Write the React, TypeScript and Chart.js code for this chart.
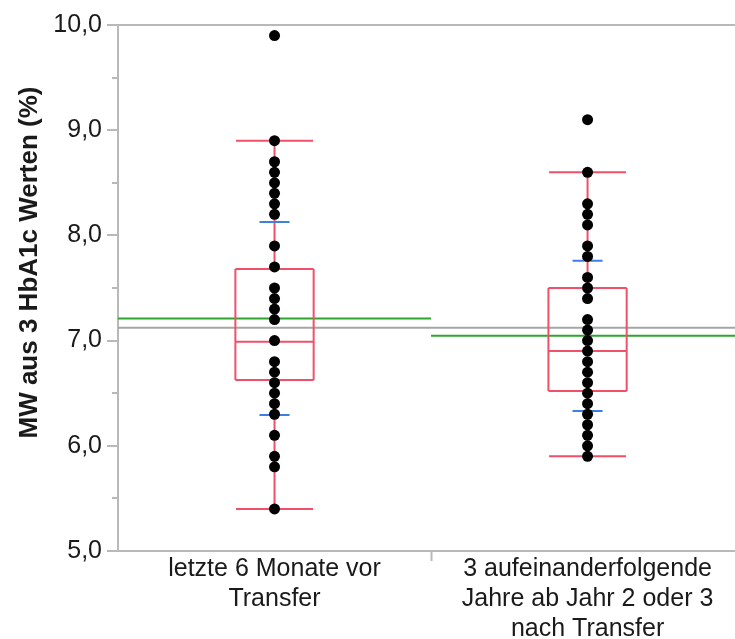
import React, { useEffect, useRef } from 'react';
import { Chart, registerables } from 'chart.js';

Chart.register(...registerables);

// Category labels (one line per array entry)
const categoryLabels: string[][] = [
  ['letzte 6 Monate vor', 'Transfer'],
  ['3 aufeinanderfolgende', 'Jahre ab Jahr 2 oder 3', 'nach Transfer'],
];
const groupCenters = [0.5, 1.5];

// Individual HbA1c means (%)
const valuesBefore = [
  9.9, 8.9, 8.7, 8.6, 8.5, 8.4, 8.3, 8.2, 7.9, 7.7, 7.5, 7.4, 7.3, 7.2, 7.0,
  6.8, 6.7, 6.6, 6.5, 6.4, 6.3, 6.1, 5.9, 5.8, 5.4,
];
const valuesAfter = [
  9.1, 8.6, 8.3, 8.2, 8.1, 7.9, 7.8, 7.6, 7.5, 7.4, 7.2, 7.1, 7.0, 6.9, 6.8,
  6.7, 6.6, 6.5, 6.4, 6.3, 6.2, 6.1, 6.0, 5.9,
];

// Summary statistics per group
const groupMeans = [7.21, 7.045];
const groupSds = [0.918, 0.715];
const quartile1 = [6.625, 6.52];
const medians = [6.99, 6.9];
const quartile3 = [7.68, 7.5];
const whiskerLow = [5.4, 5.9];
const whiskerHigh = [8.9, 8.6];
const grandMean = 7.123;

const yTitle = 'MW aus 3 HbA1c Werten (%)';

type Pt = { x: number; y: number | null };

const BOX_HALF = 0.125;
const CAP_HALF = 0.123;
const SD_HALF = 0.048;

function segments(list: [number, number, number, number][]): Pt[] {
  const out: Pt[] = [];
  list.forEach(([x1, y1, x2, y2]) => {
    out.push({ x: x1, y: y1 }, { x: x2, y: y2 }, { x: x2, y: null });
  });
  return out;
}

function boxSegments(): Pt[] {
  const segs: [number, number, number, number][] = [];
  groupCenters.forEach((c, i) => {
    const l = c - BOX_HALF;
    const r = c + BOX_HALF;
    // box
    segs.push([l, quartile1[i], r, quartile1[i]]);
    segs.push([r, quartile1[i], r, quartile3[i]]);
    segs.push([r, quartile3[i], l, quartile3[i]]);
    segs.push([l, quartile3[i], l, quartile1[i]]);
    // median
    segs.push([l, medians[i], r, medians[i]]);
    // whiskers
    segs.push([c, quartile3[i], c, whiskerHigh[i]]);
    segs.push([c, quartile1[i], c, whiskerLow[i]]);
    // caps
    segs.push([c - CAP_HALF, whiskerHigh[i], c + CAP_HALF, whiskerHigh[i]]);
    segs.push([c - CAP_HALF, whiskerLow[i], c + CAP_HALF, whiskerLow[i]]);
  });
  return segments(segs);
}

function sdSegments(): Pt[] {
  const segs: [number, number, number, number][] = [];
  groupCenters.forEach((c, i) => {
    const hi = groupMeans[i] + groupSds[i];
    const lo = groupMeans[i] - groupSds[i];
    segs.push([c - SD_HALF, hi, c + SD_HALF, hi]);
    segs.push([c - SD_HALF, lo, c + SD_HALF, lo]);
  });
  return segments(segs);
}

function meanSegments(): Pt[] {
  return segments(
    groupCenters.map((c, i) => [c - 0.5, groupMeans[i], c + 0.5, groupMeans[i]] as [number, number, number, number])
  );
}

const AXIS_GREY = '#b9b9b9';
const TEXT = '#1a1a1a';
const FONT = '"Liberation Sans", Arial, sans-serif';

const yTitlePlugin = {
  id: 'yTitle',
  afterDraw(chart: Chart) {
    const { ctx } = chart;
    ctx.save();
    ctx.translate(36.5, 262.5);
    ctx.rotate(-Math.PI / 2);
    ctx.font = `bold 26px ${FONT}`;
    ctx.fillStyle = TEXT;
    ctx.textAlign = 'center';
    ctx.textBaseline = 'alphabetic';
    ctx.fillText(yTitle, 0, 0);
    ctx.restore();
  },
};

export default function App() {
  const canvasRef = useRef<HTMLCanvasElement | null>(null);

  useEffect(() => {
    document.body.style.margin = '0';
    const canvas = canvasRef.current;
    if (!canvas) return;

    const points = [
      ...valuesBefore.map((v) => ({ x: groupCenters[0], y: v })),
      ...valuesAfter.map((v) => ({ x: groupCenters[1], y: v })),
    ];

    const lineDefaults = {
      showLine: true,
      pointRadius: 0,
      pointHoverRadius: 0,
      borderWidth: 2,
      spanGaps: false,
      fill: false,
    };

    const chart = new Chart(canvas, {
      type: 'scatter',
      data: {
        datasets: [
          {
            label: 'Werte',
            data: points,
            backgroundColor: '#000000',
            borderWidth: 0,
            pointRadius: 5.5,
            pointHoverRadius: 5.5,
            order: 0,
          },
          {
            label: 'Box',
            data: boxSegments(),
            borderColor: '#f0506a',
            ...lineDefaults,
            order: 2,
          },
          {
            label: 'SD',
            data: sdSegments(),
            borderColor: '#3d7fe6',
            ...lineDefaults,
            order: 1,
          },
          {
            label: 'Mittelwert Gruppe',
            data: meanSegments(),
            borderColor: '#2ea52e',
            ...lineDefaults,
            order: 3,
          },
          {
            label: 'Gesamtmittelwert',
            data: [
              { x: 0, y: grandMean },
              { x: 2, y: grandMean },
            ],
            borderColor: '#a6a6a6',
            ...lineDefaults,
            order: 4,
          },
        ],
      },
      options: {
        animation: false,
        responsive: true,
        maintainAspectRatio: false,
        layout: { autoPadding: false, padding: { top: 25, left: 0, right: 0, bottom: 0 } },
        plugins: {
          legend: { display: false },
          tooltip: { enabled: false },
        },
        font: { family: FONT },
        scales: {
          x: {
            type: 'linear',
            min: 0,
            max: 1.971,
            afterBuildTicks: (axis: any) => {
              axis.ticks = [0.5, 1, 1.5].map((value) => ({ value }));
            },
            afterFit: (scale: any) => {
              scale.height = 88;
              scale.paddingLeft = 0;
              scale.paddingRight = 0;
            },
            ticks: {
              autoSkip: false,
              maxRotation: 0,
              minRotation: 0,
              padding: -7,
              color: TEXT,
              font: { family: FONT, size: 25, lineHeight: 1.2 },
              callback: (value: any) => {
                const v = Number(value);
                const idx = groupCenters.findIndex((c) => Math.abs(c - v) < 1e-6);
                return idx >= 0 ? categoryLabels[idx] : '';
              },
            },
            grid: {
              drawOnChartArea: false,
              tickLength: 10,
              tickWidth: 2,
              tickColor: (c: any) =>
                c.tick && Math.abs(c.tick.value - 1) < 1e-6 ? AXIS_GREY : 'rgba(0,0,0,0)',
            },
            border: { display: true, color: AXIS_GREY, width: 2 },
          },
          y: {
            type: 'linear',
            min: 5,
            max: 10,
            afterFit: (scale: any) => {
              scale.width = 118;
            },
            ticks: {
              stepSize: 0.5,
              autoSkip: false,
              padding: 5,
              color: TEXT,
              font: { family: FONT, size: 25 },
              callback: (value: any) => {
                const v = Number(value);
                return Math.abs(v - Math.round(v)) < 1e-6 ? v.toFixed(1).replace('.', ',') : '';
              },
            },
            grid: {
              lineWidth: 2,
              color: (c: any) =>
                c.tick && Math.abs(c.tick.value - 10) < 1e-6 ? AXIS_GREY : 'rgba(0,0,0,0)',
              tickColor: AXIS_GREY,
              tickLength: 11,
              tickWidth: 2,
              tickBorderDash: (c: any) =>
                c.tick && Math.abs(c.tick.value - Math.round(c.tick.value)) > 1e-6 ? [0, 5, 20] : [],
            },
            border: { display: true, color: AXIS_GREY, width: 2 },
          },
        },
      },
      plugins: [yTitlePlugin],
    } as any);

    return () => chart.destroy();
  }, []);

  return (
    <div style={{ width: 735, height: 639, position: 'relative', background: '#ffffff' }}>
      <canvas ref={canvasRef} />
    </div>
  );
}
